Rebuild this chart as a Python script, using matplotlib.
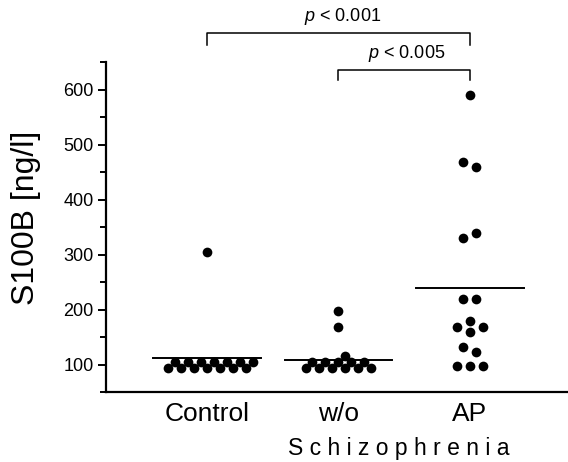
import matplotlib.pyplot as plt
import numpy as np
from matplotlib.ticker import MultipleLocator

# Arial 类字体
plt.rcParams['font.family'] = ['Liberation Sans', 'DejaVu Sans']
plt.rcParams['mathtext.fontset'] = 'custom'
plt.rcParams['mathtext.it'] = 'Liberation Sans:italic'
plt.rcParams['mathtext.rm'] = 'Liberation Sans'

# 数据（按录入顺序）
groups = ['Control', 'w/o', 'AP']
control = [93, 93, 93, 93, 93, 93, 93, 105, 105, 105, 105, 105, 105, 105, 305]
wo = [105, 105, 105, 105, 105, 93, 93, 93, 93, 93, 93, 116, 169, 198]
ap = [98, 98, 98, 131, 122, 160, 180, 169, 169, 220, 220, 330, 339, 469, 460, 590]
means = [111, 108, 240]


def swarm_offsets(y_px, slot, dmin):
    """类似 Prism 的散点排列：逐点找最近的空位，再把每簇重新居中"""
    cands = [0] + [s for n in range(1, 40) for s in (n, -n)]
    placed = []
    for y in y_px:
        for c in cands:
            if all(((c - s) * slot) ** 2 + (y - yy) ** 2 >= dmin ** 2 for s, yy in placed):
                break
        placed.append((c, y))
    slots = np.array([p[0] for p in placed], dtype=float)
    ys = np.array(y_px, dtype=float)
    order = np.argsort(ys, kind='stable')
    cluster = [order[0]]
    clusters = []
    for a, b in zip(order[:-1], order[1:]):
        if ys[b] - ys[a] < dmin:
            cluster.append(b)
        else:
            clusters.append(cluster)
            cluster = [b]
    clusters.append(cluster)
    for idx in clusters:
        slots[idx] -= np.round(slots[idx].mean())
    return slots * slot


fig = plt.figure(figsize=(5.68, 4.62), dpi=100)
# 右端伸出画布，让 x 轴线一直画到边缘
ax = fig.add_axes([0.1866, 0.1515, 0.83, 0.7143])
ax.set_xlim(-0.77, 2.82)
ax.set_ylim(50, 650)

# 像素换算
px_per_x = ax.transData.transform((1, 0))[0] - ax.transData.transform((0, 0))[0]
slot_px = 6.5
for i, vals in enumerate([control, wo, ap]):
    y_px = ax.transData.transform(np.column_stack([np.zeros(len(vals)), vals]))[:, 1]
    offs = swarm_offsets(y_px, slot_px, 8.5) / px_per_x
    ax.plot(i + offs, vals, 'o', color='black', ms=7, mew=0, clip_on=False, zorder=3)
    ax.plot([i - 0.41, i + 0.41], [means[i], means[i]], color='black', lw=1.4, zorder=2)

# 显著性括号
ax.plot([0, 0, 2, 2], [681, 703, 703, 681], color='black', lw=1.1, clip_on=False)
ax.plot([1, 1, 2, 2], [617, 635, 635, 617], color='black', lw=1.1, clip_on=False)
ax.text(1.03, 732, r'$\mathit{p}$ < 0.001', ha='center', va='center', fontsize=13, clip_on=False)
ax.text(1.52, 666, r'$\mathit{p}$ < 0.005', ha='center', va='center', fontsize=13, clip_on=False)

# 坐标轴
ax.spines['top'].set_visible(False)
ax.spines['right'].set_visible(False)
ax.spines['left'].set_linewidth(1.6)
ax.spines['bottom'].set_linewidth(1.6)
ax.set_xticks(range(len(groups)))
ax.set_xticklabels(groups, fontsize=19)
ax.tick_params(axis='x', length=0, pad=7)
ax.set_yticks(range(100, 601, 100))
ax.yaxis.set_minor_locator(MultipleLocator(50))
ax.tick_params(axis='y', which='major', length=6, width=1.4, labelsize=13, pad=3)
ax.tick_params(axis='y', which='minor', length=4, width=1.4)
ax.set_ylabel('S100B [ng/l]', fontsize=23)
ax.yaxis.set_label_coords(-0.137, 0.527)

fig.text(399 / 568, 0.030, 'S c h i z o p h r e n i a', ha='center', va='center', fontsize=16.5)

fig.savefig('out.png', dpi=100)
